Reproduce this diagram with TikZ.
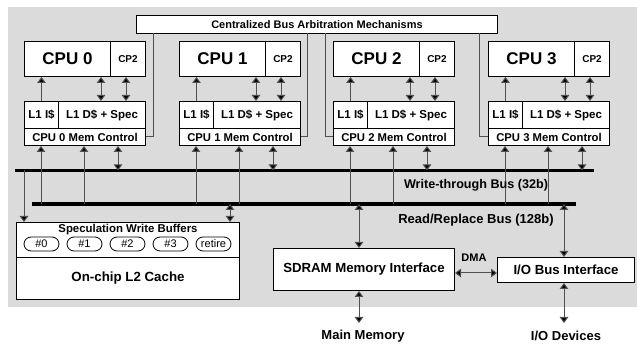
\documentclass[tikz,border=0pt]{standalone}
\usepackage{fontspec}
\setmainfont{Liberation Sans}
\usetikzlibrary{arrows.meta}
\definecolor{bg}{RGB}{219,219,219}
\definecolor{shaft}{RGB}{80,80,80}
\tikzset{
  box/.style={draw=black, fill=white, line width=1pt, inner sep=0pt, anchor=north west},
  conn/.style={draw=shaft, line width=1pt},
  arr/.style={conn, -{Triangle[width=8.5pt,length=6pt,fill=black]}},
  darr/.style={conn, {Triangle[width=8.5pt,length=6pt,fill=black]}-{Triangle[width=8.5pt,length=6pt,fill=black]}},
  bus/.style={draw=black, line width=3.3pt},
  oval/.style={draw=black, fill=white, line width=0.8pt, rounded corners=7pt, minimum width=35pt, minimum height=14pt, inner sep=0pt},
  lbl/.style={inner sep=0pt, font=\bfseries\fontsize{13}{15}\selectfont},
}
\begin{document}
\begin{tikzpicture}[x=1pt,y=-1pt]
\useasboundingbox (0,0) rectangle (637,344);
\fill[bg] (8,7) rectangle (637,307.5);
% arbitration box
\node[box, minimum width=361pt, minimum height=18pt, font=\bfseries\fontsize{11}{13}\selectfont] (arb) at (136,15) {Centralized Bus Arbitration Mechanisms};
% buses
\coordinate (wb1) at (15,170.5); \coordinate (wb2) at (594,170.5);
\coordinate (rb1) at (32,204); \coordinate (rb2) at (576,204);
\draw[bus] (wb1) -- (wb2);
\draw[bus] (rb1) -- (rb2);
% CPUs
\foreach \i/\x in {0/24,1/179,2/333,3/488}{
  \node[box, minimum width=86pt, minimum height=35pt, font=\bfseries\fontsize{17}{19}\selectfont] (cpu\i) at (\x,41) {CPU \i};
  \node[box, minimum width=35pt, minimum height=35pt, font=\bfseries\fontsize{10}{12}\selectfont] (cp\i) at (\x+86,41) {CP2};
  \node[box, minimum width=34pt, minimum height=27pt, font=\bfseries\fontsize{11.5}{13}\selectfont] (li\i) at (\x,101) {L1 I\$};
  \node[box, minimum width=87pt, minimum height=27pt, font=\bfseries\fontsize{11.5}{13}\selectfont] (ld\i) at (\x+34,101) {L1 D\$ + Spec};
  \node[box, minimum width=121pt, minimum height=17pt, font=\bfseries\fontsize{11.3}{13}\selectfont] (mc\i) at (\x,128) {CPU \i\ Mem Control};
  \draw[arr] (li\i.north) -- (li\i.north |- cpu\i.south);
  \draw[darr] ([xshift=77pt]cpu\i.south west) -- ([xshift=43pt]ld\i.north west);
  \draw[darr] ([xshift=16pt]cp\i.south west) -- ([xshift=68pt]ld\i.north west);
  \path (mc\i.south west) ++(17,0) coordinate (a\i) ++(43,0) coordinate (b\i) ++(34,0) coordinate (c\i);
  \draw[arr] (a\i |- rb1) -- (a\i);
  \draw[arr] (b\i |- rb1) -- (b\i);
  \draw[darr] (c\i) -- (c\i |- wb1);
}
% arbitration links
\coordinate (k0) at (153,33); \coordinate (k1) at (307,33);
\coordinate (k2) at (325,33); \coordinate (k3) at (479,33);
\draw[conn] (mc0.east) -| (k0);
\draw[conn] (mc1.east) -| (k1);
\draw[conn] (mc2.west) -| (k2);
\draw[conn] (mc3.west) -| (k3);
% L2
\node[box, minimum width=223pt, minimum height=35pt] (swb) at (16,222) {};
\node[box, minimum width=223pt, minimum height=42pt, font=\bfseries\fontsize{13.3}{15}\selectfont] (l2) at (16,257) {On-chip L2 Cache};
\node[lbl, font=\bfseries\fontsize{11.4}{13}\selectfont] (swbt) at (128,229.5) {Speculation Write Buffers};
\foreach \n/\t/\x in {o0/\#0/41.5, o1/\#1/84.5, o2/\#2/127.5, o3/\#3/170.5, o4/retire/213.5}{
  \node[oval, font=\fontsize{11}{13}\selectfont] (\n) at (\x,244) {\t};
}
\draw[arr] (swb.north west |- wb1) ++(8,0) coordinate (w0) -- (w0 |- swb.north);
\coordinate (r0) at (230,204);
\draw[darr] (r0) -- (r0 |- swb.north);
% SDRAM
\node[box, minimum width=181pt, minimum height=42pt, font=\bfseries\fontsize{13.2}{15}\selectfont] (sd) at (273,248) {SDRAM Memory Interface};
\node[box, minimum width=137pt, minimum height=25pt, font=\bfseries\fontsize{13.2}{15}\selectfont] (io) at (497,257) {I/O Bus Interface};
\coordinate (r1) at (359,204); \coordinate (r2) at (564,204);
\draw[darr] (r1) -- (r1 |- sd.north);
\draw[darr] (r2) -- (r2 |- io.north);
\coordinate (mm) at (359,323); \coordinate (iod) at (564,323);
\draw[darr] (mm |- sd.south) -- (mm);
\draw[darr] (iod |- io.south) -- (iod);
\node[lbl] (mmt) at (363,336) {Main Memory};
\node[lbl] (iot) at (566,336) {I/O Devices};
\coordinate (dm) at (0,273);
\draw[darr] (sd.east |- dm) -- (io.west |- dm);
\node[lbl, font=\bfseries\fontsize{11}{13}\selectfont] (dma) at (474,258) {DMA};
\node[lbl, font=\bfseries\fontsize{12.6}{15}\selectfont] (wbt) at (476,185) {Write-through Bus (32b)};
\node[lbl] (rbt) at (476,220) {Read/Replace Bus (128b)};
\end{tikzpicture}
\end{document}
